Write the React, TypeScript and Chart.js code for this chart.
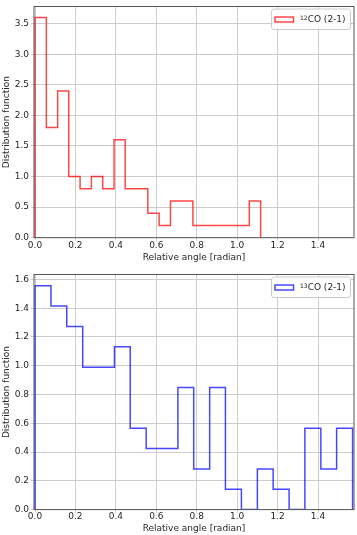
import React, { useEffect, useRef } from 'react';
import { Chart, registerables } from 'chart.js';

Chart.register(...registerables);

// ---- data ----
const co12Edges = [0, 0.056, 0.112, 0.167, 0.223, 0.279, 0.335, 0.391, 0.446, 0.502, 0.558, 0.614, 0.67, 0.725, 0.781, 0.837, 0.893, 0.949, 1.004, 1.06, 1.116];
const co12Values = [3.6, 1.8, 2.4, 1.0, 0.8, 1.0, 0.8, 1.6, 0.8, 0.8, 0.4, 0.2, 0.6, 0.6, 0.2, 0.2, 0.2, 0.2, 0.2, 0.6];
const co13Edges = [0, 0.079, 0.157, 0.236, 0.314, 0.393, 0.471, 0.55, 0.628, 0.707, 0.785, 0.864, 0.942, 1.021, 1.1, 1.178, 1.257, 1.335, 1.414, 1.492, 1.571];
const co13Values = [1.556, 1.415, 1.273, 0.99, 0.99, 1.132, 0.566, 0.424, 0.424, 0.849, 0.283, 0.849, 0.141, 0, 0.283, 0.141, 0, 0.566, 0.283, 0.566];
const co12Label = ['12', 'CO (2-1)'];
const co13Label = ['13', 'CO (2-1)'];
const xTitle = 'Relative angle [radian]';
const yTitle = 'Distribution function';
const xRange = [-0.005, 1.578];
const co12YRange = [0, 3.78];
const co13YRange = [0, 1.634];
const co12YStep = 0.5;
const co13YStep = 0.2;
const xStep = 0.2;

// ---- styles ----
const FONT = "'DejaVu Sans', sans-serif";
const TEXT = '#262626';
const GRID = '#cccccc';
const SPINE = '#555555';

function outline(edges: number[], values: number[]) {
  const pts: { x: number; y: number }[] = [{ x: edges[0], y: 0 }];
  values.forEach((v, i) => {
    pts.push({ x: edges[i], y: v });
    pts.push({ x: edges[i + 1], y: v });
  });
  pts.push({ x: edges[edges.length - 1], y: 0 });
  return pts;
}

function makePlugin(color: string, label: string[]) {
  return {
    id: 'frameLegend',
    afterDraw(chart: any) {
      const { ctx, chartArea: a } = chart;
      ctx.save();
      // frame (spines)
      ctx.strokeStyle = SPINE;
      ctx.lineWidth = 1;
      ctx.strokeRect(a.left, a.top, a.right - a.left, a.bottom - a.top);
      // legend box
      const w = 79, h = 20.5;
      const x = a.right - w - 3.5;
      const y = a.top + 2.5;
      ctx.beginPath();
      (ctx as any).roundRect(x, y, w, h, 2.5);
      ctx.fillStyle = 'rgba(255,255,255,0.85)';
      ctx.fill();
      ctx.strokeStyle = '#cccccc';
      ctx.lineWidth = 1;
      ctx.stroke();
      // patch
      ctx.strokeStyle = color;
      ctx.lineWidth = 1.5;
      ctx.strokeRect(x + 3.5, y + 8, 18.5, 5);
      // text
      ctx.fillStyle = TEXT;
      ctx.textAlign = 'left';
      ctx.textBaseline = 'alphabetic';
      ctx.font = `6px ${FONT}`;
      ctx.fillText(label[0], x + 28.5, y + 11);
      const sw = ctx.measureText(label[0]).width;
      ctx.font = `9px ${FONT}`;
      ctx.fillText(label[1], x + 28.5 + sw, y + 13.2);
      ctx.restore();
    },
  };
}

type PanelProps = {
  edges: number[];
  values: number[];
  color: string;
  label: string[];
  yRange: number[];
  yStep: number;
  height: number;
  padTop: number;
  xAxisH: number;
  titlePadBottom: number;
};

function Panel(p: PanelProps) {
  const ref = useRef<HTMLCanvasElement>(null);
  useEffect(() => {
    if (!ref.current) return;
    const chart = new Chart(ref.current, {
      type: 'line',
      data: {
        datasets: [
          {
            data: outline(p.edges, p.values),
            borderColor: p.color,
            borderWidth: 1.5,
            pointRadius: 0,
            tension: 0,
            fill: false,
          },
        ],
      },
      options: {
        animation: false,
        responsive: false,
        devicePixelRatio: 1,
        layout: { padding: { top: p.padTop, right: 3, left: 0, bottom: 0 } },
        plugins: { legend: { display: false }, tooltip: { enabled: false } },
        scales: {
          x: {
            type: 'linear',
            min: xRange[0],
            max: xRange[1],
            border: { display: false },
            grid: { color: GRID, lineWidth: 1, drawTicks: true, tickLength: 3, tickColor: GRID },
            ticks: {
              stepSize: xStep,
              includeBounds: false,
              padding: 0,
              color: TEXT,
              font: { family: FONT, size: 9, lineHeight: 1 },
              maxRotation: 0,
              callback: (v: any) => Number(v).toFixed(1),
            },
            title: {
              display: true,
              text: xTitle,
              color: TEXT,
              font: { family: FONT, size: 9, lineHeight: 1.2 },
              padding: { top: 0, bottom: p.titlePadBottom },
            },
            afterFit: (s: any) => {
              s.height = p.xAxisH;
            },
          },
          y: {
            type: 'linear',
            min: p.yRange[0],
            max: p.yRange[1],
            border: { display: false },
            grid: { color: GRID, lineWidth: 1, drawTicks: true, tickLength: 3, tickColor: GRID },
            ticks: {
              stepSize: p.yStep,
              includeBounds: false,
              padding: 2,
              color: TEXT,
              font: { family: FONT, size: 9, lineHeight: 1 },
              callback: (v: any) => Number(v).toFixed(1),
            },
            title: {
              display: true,
              text: yTitle,
              color: TEXT,
              font: { family: FONT, size: 9, lineHeight: 1.2 },
              padding: { top: 1, bottom: 0 },
            },
            afterFit: (s: any) => {
              s.width = 34;
            },
          },
        },
      },
      plugins: [makePlugin(p.color, p.label)],
    } as any);
    return () => chart.destroy();
  }, []);
  return <canvas ref={ref} width={357} height={p.height} style={{ display: 'block' }} />;
}

export default function App() {
  useEffect(() => {
    document.body.style.margin = '0';
  }, []);
  return (
    <div style={{ width: 357, background: '#fff' }}>
      <Panel
        edges={co12Edges}
        values={co12Values}
        color="rgba(255,0,0,0.72)"
        label={co12Label}
        yRange={co12YRange}
        yStep={co12YStep}
        height={268}
        padTop={3}
        xAxisH={30.3}
        titlePadBottom={4.9}
      />
      <Panel
        edges={co13Edges}
        values={co13Values}
        color="rgba(0,0,255,0.72)"
        label={co13Label}
        yRange={co13YRange}
        yStep={co13YStep}
        height={267}
        padTop={4.3}
        xAxisH={25.4}
        titlePadBottom={0.5}
      />
    </div>
  );
}
